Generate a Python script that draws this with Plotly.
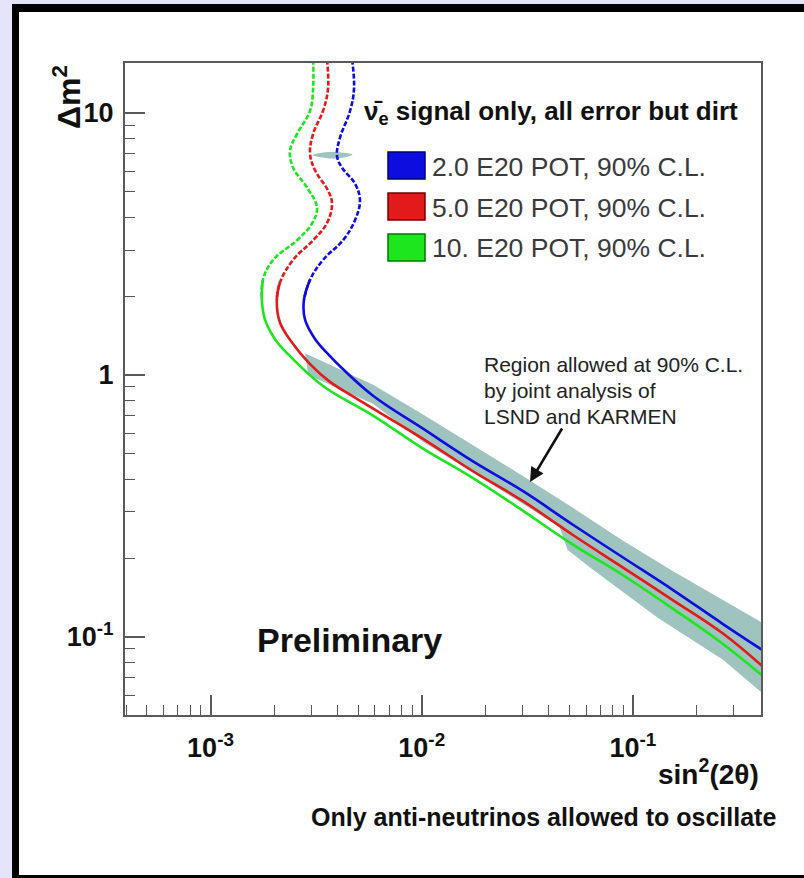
import numpy as np
import plotly.graph_objects as go

# ---------------------------------------------------------------- data
# 90% C.L. sensitivity contours (sin^2(2theta), delta m^2 in eV^2)
pot_labels = ["2.0 E20 POT, 90% C.L.", "5.0 E20 POT, 90% C.L.", "10. E20 POT, 90% C.L."]

blue_sin2 = [4.68e-3, 4.78e-3, 4.58e-3, 4.10e-3, 3.97e-3, 4.19e-3, 4.83e-3, 5.10e-3, 4.83e-3,
             4.24e-3, 3.41e-3, 2.96e-3, 2.77e-3, 2.80e-3, 3.13e-3, 3.68e-3, 4.10e-3, 5.88e-3,
             1.014e-2, 1.75e-2, 3.02e-2, 5.20e-2, 8.98e-2, 0.155, 0.267, 0.42]
blue_dm2 = [16.0, 12.4, 10.2, 8.04, 6.87, 6.19, 5.38, 4.64, 3.90,
            3.27, 2.75, 2.31, 1.94, 1.63, 1.37, 1.18, 1.08, 0.833,
            0.624, 0.468, 0.360, 0.268, 0.201, 0.151, 0.112, 0.088]

red_sin2 = [3.56e-3, 3.60e-3, 3.41e-3, 3.06e-3, 2.96e-3, 3.13e-3, 3.60e-3, 3.76e-3, 3.56e-3,
            3.06e-3, 2.46e-3, 2.13e-3, 2.06e-3, 2.13e-3, 2.43e-3, 2.96e-3, 3.68e-3, 4.94e-3,
            1.01e-2, 1.75e-2, 3.02e-2, 5.20e-2, 8.98e-2, 0.155, 0.267, 0.42]
red_dm2 = [16.0, 12.4, 10.2, 8.33, 6.99, 6.03, 5.06, 4.52, 3.80,
           3.27, 2.75, 2.25, 1.94, 1.59, 1.33, 1.10, 0.941, 0.811,
           0.572, 0.429, 0.330, 0.245, 0.184, 0.138, 0.103, 0.076]

green_sin2 = [3.06e-3, 3.06e-3, 2.96e-3, 2.57e-3, 2.38e-3, 2.46e-3, 2.86e-3, 3.19e-3, 3.03e-3,
              2.57e-3, 1.98e-3, 1.77e-3, 1.75e-3, 1.81e-3, 2.02e-3, 2.38e-3, 3.41e-3, 5.88e-3,
              1.01e-2, 1.75e-2, 3.02e-2, 5.20e-2, 8.98e-2, 0.155, 0.267, 0.42]
green_dm2 = [16.0, 12.4, 10.2, 8.33, 7.18, 6.19, 5.20, 4.37, 3.80,
             3.27, 2.75, 2.31, 1.94, 1.63, 1.37, 1.18, 0.908, 0.700,
             0.525, 0.404, 0.303, 0.225, 0.172, 0.128, 0.094, 0.070]

# LSND + KARMEN joint 90% C.L. allowed region (upper edge, then lower edge back)
lk_upper_sin2 = [2.80e-3, 5.88e-3, 1.014e-2, 1.75e-2, 3.02e-2, 5.20e-2, 8.98e-2, 0.155, 0.267, 0.42]
lk_upper_dm2 = [1.21, 0.917, 0.706, 0.538, 0.411, 0.311, 0.233, 0.178, 0.138, 0.112]
lk_lower_sin2 = [0.42, 0.267, 0.130, 0.0627, 0.0490, 0.0450, 3.02e-2, 1.75e-2, 1.01e-2, 5.88e-3, 2.90e-3]
lk_lower_dm2 = [0.060, 0.0818, 0.119, 0.184, 0.215, 0.262, 0.322, 0.422, 0.557, 0.777, 1.0]
lk_island_sin2 = [3.05e-3, 3.6e-3, 4.7e-3, 3.9e-3, 3.05e-3]
lk_island_dm2 = [6.9, 7.1, 6.95, 6.7, 6.9]

x_tickvals = [1e-3, 1e-2, 1e-1]
x_ticktext = ["10<sup>-3</sup>", "10<sup>-2</sup>", "10<sup>-1</sup>"]
y_tickvals = [0.1, 1, 10]
y_ticktext = ["10<sup>-1</sup>", "1", "10"]

# ---------------------------------------------------------------- layout helpers
W, H = 804, 878
ML, MR, MT, MB = 125, 43, 63, 163
PW, PH = W - ML - MR, H - MT - MB


def pxx(x):
    return (x - ML) / PW


def pxy(y):
    return (H - MB - y) / PH


FONT = "Liberation Sans, Arial, Helvetica, sans-serif"
AXC = "#5a5a5a"
BAND = "#9fc3be"
COLORS = ["#0d0de0", "#e21a1a", "#1ee61e"]
EDGES = ["#00007a", "#7a0000", "#007a00"]

fig = go.Figure()

# allowed region
fig.add_trace(go.Scatter(
    x=lk_upper_sin2 + lk_lower_sin2, y=lk_upper_dm2 + lk_lower_dm2,
    mode="lines", fill="toself", fillcolor=BAND, line=dict(width=0, color=BAND),
    hoverinfo="skip", showlegend=False))
fig.add_trace(go.Scatter(
    x=lk_island_sin2, y=lk_island_dm2, mode="lines", fill="toself",
    fillcolor=BAND, line=dict(width=0, color=BAND), line_shape="spline",
    hoverinfo="skip", showlegend=False))

# sensitivity contours: dashed on the steep high-delta-m^2 part, solid below
SPLIT = 11
for sx, sy, col, name in [(blue_sin2, blue_dm2, COLORS[0], pot_labels[0]),
                          (red_sin2, red_dm2, COLORS[1], pot_labels[1]),
                          (green_sin2, green_dm2, COLORS[2], pot_labels[2])]:
    sx = np.asarray(sx)
    sy = np.asarray(sy)
    fig.add_trace(go.Scatter(x=sx[:SPLIT + 2], y=sy[:SPLIT + 2], mode="lines", line_shape="spline",
                             line=dict(color=col, width=2.6, dash="5px,2px", smoothing=1.1),
                             name=name, showlegend=False))
    fig.add_trace(go.Scatter(x=sx[SPLIT:], y=sy[SPLIT:], mode="lines", line_shape="spline",
                             line=dict(color=col, width=2.6, smoothing=1.1),
                             name=name, showlegend=False))

axis_common = dict(
    type="log", showline=True, linecolor=AXC, linewidth=2, mirror=True,
    ticks="inside", ticklen=20, tickwidth=1.5, tickcolor=AXC,
    showgrid=False, zeroline=False, tickmode="array",
    tickfont=dict(family=FONT, size=27, color="#111", weight="bold"),
)

x_minor = [m * 10.0 ** e for e in (-4, -3, -2, -1) for m in range(2, 10)]
y_minor = [m * 10.0 ** e for e in (-2, -1, 0, 1) for m in range(2, 10)]

fig.update_xaxes(**axis_common, range=[-3.405, -0.3935], tickvals=x_tickvals, ticktext=x_ticktext,
                 ticklabelstandoff=8,
                 minor=dict(tickmode="array", tickvals=x_minor, ticks="inside", ticklen=10,
                            tickwidth=1.2, tickcolor=AXC, showgrid=False))
fig.update_yaxes(**axis_common, range=[-1.298, 1.191], tickvals=y_tickvals, ticktext=y_ticktext,
                 ticklabelstandoff=4,
                 minor=dict(tickmode="array", tickvals=y_minor, ticks="inside", ticklen=10,
                            tickwidth=1.2, tickcolor=AXC, showgrid=False))

shapes = [
    # black frame and white canvas
    dict(type="rect", xref="paper", yref="paper", x0=pxx(12), x1=pxx(830), y0=pxy(4), y1=pxy(900),
         fillcolor="black", line=dict(width=0), layer="below"),
    dict(type="rect", xref="paper", yref="paper", x0=pxx(19), x1=pxx(830), y0=pxy(12), y1=pxy(875),
         fillcolor="white", line=dict(width=0), layer="below"),
]
legend_y = [(152, 179), (193, 220), (234, 261)]
for (y0, y1), c, e in zip(legend_y, COLORS, EDGES):
    shapes.append(dict(type="rect", xref="paper", yref="paper", x0=pxx(388), x1=pxx(425),
                       y0=pxy(y1), y1=pxy(y0), fillcolor=c, line=dict(color=e, width=1.5)))

annotations = []


def text(s, x, y, size, xanchor="left", yanchor="middle", bold=False, color="#111", angle=0):
    annotations.append(dict(text=s, x=pxx(x), y=pxy(y), xref="paper", yref="paper",
                            xanchor=xanchor, yanchor=yanchor, showarrow=False, textangle=angle,
                            font=dict(family=FONT, size=size, color=color,
                                      weight="bold" if bold else "normal")))


text("ν̄<sub>e</sub> signal only, all error but dirt", 362, 112, 26, bold=True)
for (y0, y1), lab in zip(legend_y, pot_labels):
    text(lab, 430, (y0 + y1) / 2 + 1, 26.5, color="#3a3a3a")

text("Region allowed at 90% C.L.", 482, 364, 21, color="#222")
text("by joint analysis of", 482, 390, 21, color="#222")
text("LSND and KARMEN", 482, 416, 21, color="#222")

annotations.append(dict(x=pxx(530), y=pxy(482), ax=33, ay=-55, xref="paper", yref="paper",
                        axref="pixel", ayref="pixel", showarrow=True, arrowhead=2,
                        arrowsize=1.1, arrowwidth=2.6, arrowcolor="#111", text=""))

text("Preliminary", 255, 640, 34, bold=True)
text("Δm<sup>2</sup>", 67, 63, 32, xanchor="center", yanchor="top", bold=True, angle=-90)
text("sin<sup>2</sup>(2θ)", 761, 772, 28, xanchor="right", bold=True)
text("Only anti-neutrinos allowed to oscillate", 778, 817, 25, xanchor="right", bold=True)

fig.update_layout(
    width=W, height=H, margin=dict(l=ML, r=MR, t=MT, b=MB, pad=0),
    paper_bgcolor="#e4e4fa", plot_bgcolor="white",
    shapes=shapes, annotations=annotations, showlegend=False,
    font=dict(family=FONT),
)

fig.write_html("out.html")
